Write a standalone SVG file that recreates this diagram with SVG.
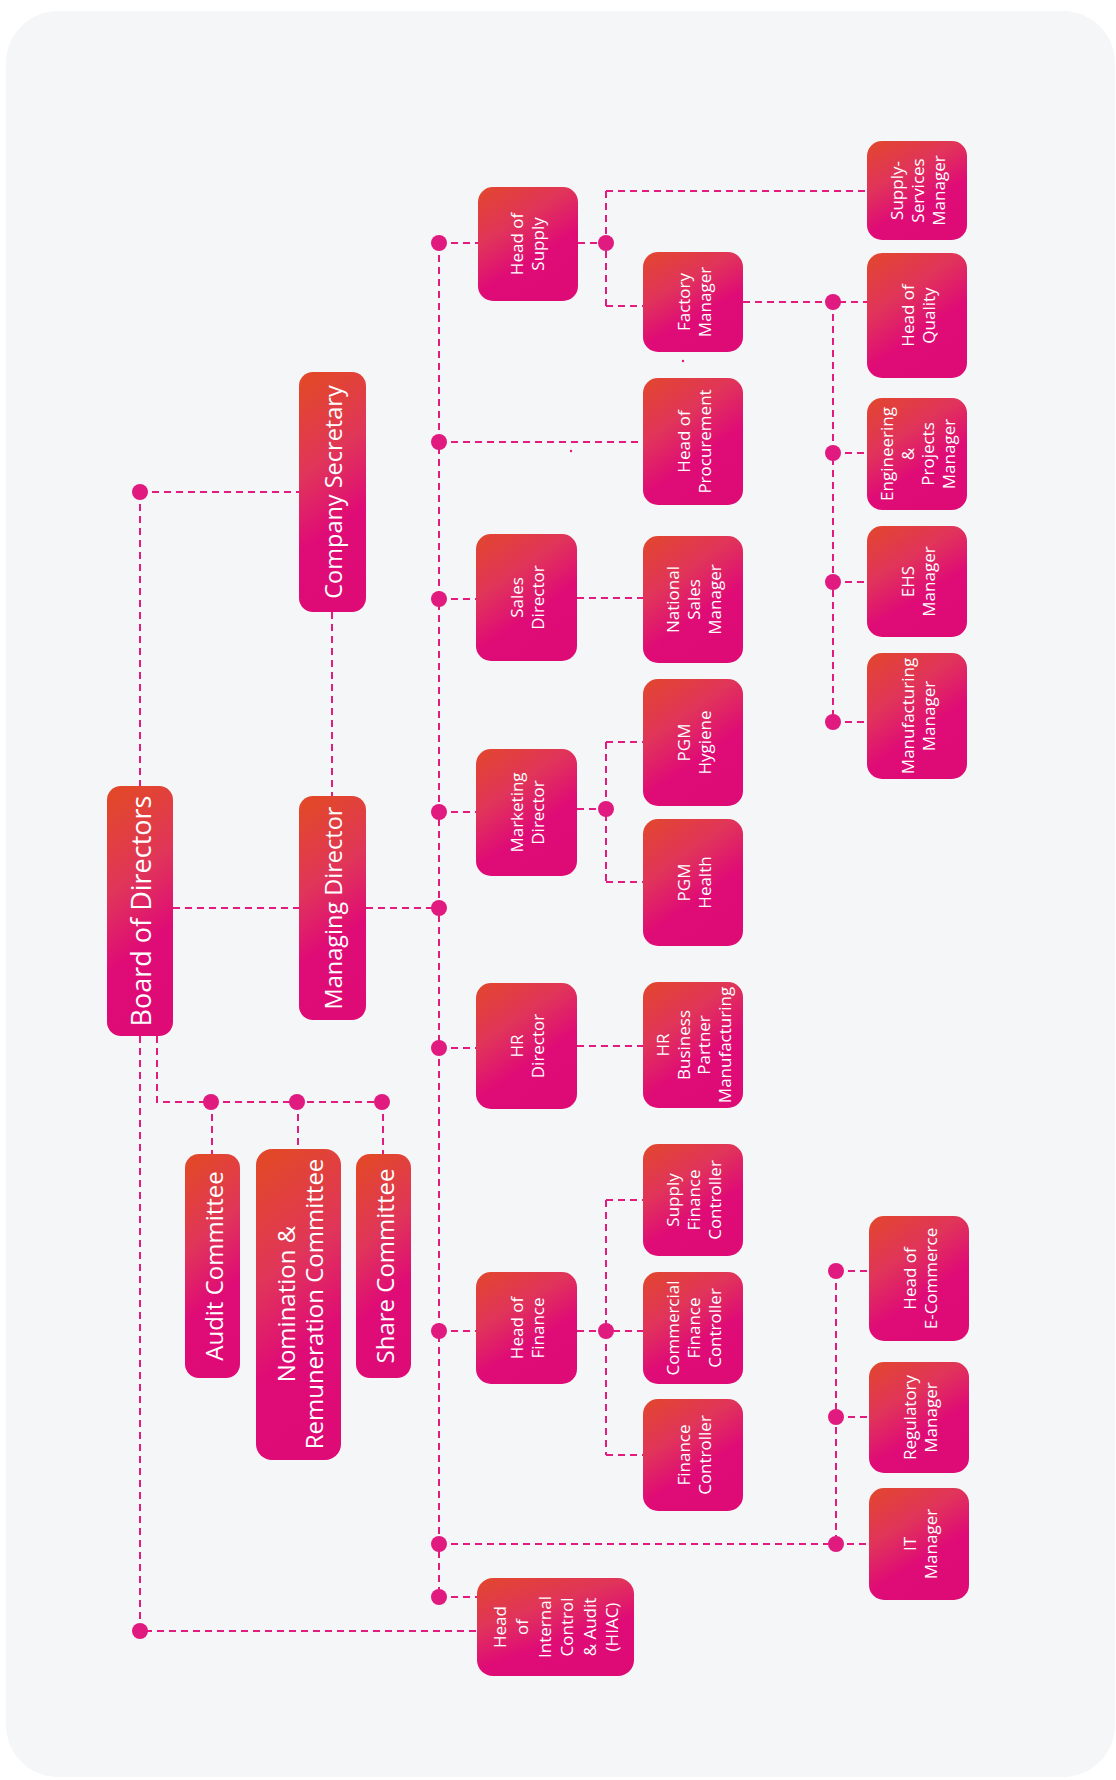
<svg xmlns="http://www.w3.org/2000/svg" width="1116" height="1780" viewBox="0 0 1116 1780">
<defs>
<linearGradient id="gT" x1="0.4" y1="0" x2="0.6" y2="1">
<stop offset="0" stop-color="#e2472c"/><stop offset="0.35" stop-color="#e0355a"/><stop offset="0.65" stop-color="#df0b76"/><stop offset="1" stop-color="#de0a76"/>
</linearGradient>
<linearGradient id="gS" x1="0" y1="0" x2="0.55" y2="1">
<stop offset="0" stop-color="#e2472c"/><stop offset="0.4" stop-color="#e0345a"/><stop offset="0.72" stop-color="#df0b76"/><stop offset="1" stop-color="#de0a76"/>
</linearGradient>
<style>
.bt{fill:url(#gT)}
.bs{fill:url(#gS)}
.t{fill:#fff;font-family:"Open Sans","Noto Sans",sans-serif;text-anchor:middle;dominant-baseline:central}
.tl{font-size:23.5px}
.tc{font-size:24px}
.ts{font-size:17px}
.c{fill:none;stroke:#e31b7f;stroke-width:2;stroke-dasharray:7 5}
.d{fill:#e01a7f}
</style>
</defs>
<rect x="0" y="0" width="1116" height="1780" fill="#ffffff"/>
<rect x="6" y="11" width="1109" height="1766" rx="52" fill="#f5f6f8"/>

<g id="connectors">
<path class="c" d="M439 243V1597"/>
<path class="c" d="M173 908H299M366 908H439"/>
<path class="c" d="M140 492V786M140 492H299M332 612V796"/>
<path class="c" d="M140 1036V1631H477"/>
<path class="c" d="M157 1036V1102H383M212 1102V1154M298 1102V1149M383 1102V1154"/>
<path class="c" d="M439 243H478M578 243H606M606 191V306M606 191H867M606 306H643"/>
<path class="c" d="M743 302H867M833 302V722M833 453H867M833 582H867M833 722H867"/>
<path class="c" d="M439 442H643"/>
<path class="c" d="M439 599H476M577 598H643"/>
<path class="c" d="M439 812H476M577 809H606M606 742V882M606 742H643M606 882H643"/>
<path class="c" d="M439 1048H476M577 1046H643"/>
<path class="c" d="M439 1331H476M577 1331H643M606 1200V1455M606 1200H643M606 1455H643"/>
<path class="c" d="M439 1544H869M836 1271V1544M836 1271H869M836 1417H869"/>
<path class="c" d="M439 1597H477"/>
<circle class="d" cx="140" cy="492" r="8"/>
<circle class="d" cx="140" cy="1631" r="8"/>
<circle class="d" cx="211" cy="1102" r="8"/>
<circle class="d" cx="297" cy="1102" r="8"/>
<circle class="d" cx="382" cy="1102" r="8"/>
<circle class="d" cx="439" cy="243" r="8"/>
<circle class="d" cx="439" cy="442" r="8"/>
<circle class="d" cx="439" cy="599" r="8"/>
<circle class="d" cx="439" cy="812" r="8"/>
<circle class="d" cx="439" cy="908" r="8"/>
<circle class="d" cx="439" cy="1048" r="8"/>
<circle class="d" cx="439" cy="1331" r="8"/>
<circle class="d" cx="439" cy="1544" r="8"/>
<circle class="d" cx="439" cy="1597" r="8"/>
<circle class="d" cx="606" cy="243" r="8"/>
<circle class="d" cx="606" cy="809" r="8"/>
<circle class="d" cx="606" cy="1331" r="8"/>
<circle class="d" cx="833" cy="302" r="8"/>
<circle class="d" cx="833" cy="453" r="8"/>
<circle class="d" cx="833" cy="582" r="8"/>
<circle class="d" cx="833" cy="722" r="8"/>
<circle class="d" cx="836" cy="1271" r="8"/>
<circle class="d" cx="836" cy="1417" r="8"/>
<circle class="d" cx="836" cy="1544" r="8"/>
<circle class="d" cx="571" cy="451" r="1.2"/>
<circle class="d" cx="683" cy="361" r="1.2"/>
</g>

<g id="board">
<rect class="bt" x="107" y="786" width="66" height="250" rx="14"/>
<text class="t" style="font-size:27px" transform="translate(140 911) rotate(-90)"><tspan x="0" y="0">Board of Directors</tspan></text>
</g>
<g id="md">
<rect class="bt" x="299" y="796" width="67" height="224" rx="14"/>
<text class="t tl" transform="translate(332.5 908) rotate(-90)"><tspan x="0" y="0">Managing Director</tspan></text>
</g>
<g id="cs">
<rect class="bt" x="299" y="372" width="67" height="240" rx="14"/>
<text class="t tl" transform="translate(332.5 492) rotate(-90)"><tspan x="0" y="0">Company Secretary</tspan></text>
</g>
<g id="audit">
<rect class="bt" x="185" y="1154" width="55" height="224" rx="14"/>
<text class="t tc" transform="translate(212.5 1266) rotate(-90)"><tspan x="0" y="0">Audit Committee</tspan></text>
</g>
<g id="nomination">
<rect class="bt" x="256" y="1149" width="85" height="311" rx="16"/>
<text class="t tc" transform="translate(298.5 1304) rotate(-90)"><tspan x="0" y="-14">Nomination &amp;</tspan><tspan x="0" y="14">Remuneration Committee</tspan></text>
</g>
<g id="share">
<rect class="bt" x="356" y="1154" width="55" height="224" rx="14"/>
<text class="t tc" transform="translate(383.5 1266) rotate(-90)"><tspan x="0" y="0">Share Committee</tspan></text>
</g>

<g id="head-supply">
<rect class="bs" x="478" y="187" width="100" height="114" rx="15"/>
<text class="t ts" transform="translate(526 244) rotate(-90)"><tspan x="0" y="-10.5">Head of</tspan><tspan x="0" y="10.5">Supply</tspan></text>
</g>
<g id="supply-services">
<rect class="bs" x="867" y="141" width="100" height="99" rx="15"/>
<text class="t ts" transform="translate(917 190.5) rotate(-90)"><tspan x="0" y="-21">Supply-</tspan><tspan x="0" y="0">Services</tspan><tspan x="0" y="21">Manager</tspan></text>
</g>
<g id="factory">
<rect class="bs" x="643" y="252" width="100" height="100" rx="15"/>
<text class="t ts" transform="translate(693 302) rotate(-90)"><tspan x="0" y="-10.5">Factory</tspan><tspan x="0" y="10.5">Manager</tspan></text>
</g>
<g id="quality">
<rect class="bs" x="867" y="253" width="100" height="125" rx="15"/>
<text class="t ts" transform="translate(917 315.5) rotate(-90)"><tspan x="0" y="-10.5">Head of</tspan><tspan x="0" y="10.5">Quality</tspan></text>
</g>
<g id="procurement">
<rect class="bs" x="643" y="378" width="100" height="127" rx="15"/>
<text class="t ts" transform="translate(693 441.5) rotate(-90)"><tspan x="0" y="-10.5">Head of</tspan><tspan x="0" y="10.5">Procurement</tspan></text>
</g>
<g id="engineering">
<rect class="bs" x="867" y="398" width="100" height="112" rx="15"/>
<text class="t ts" transform="translate(917 454) rotate(-90)"><tspan x="0" y="-31">Engineering</tspan><tspan x="0" y="-10.3">&amp;</tspan><tspan x="0" y="10.3">Projects</tspan><tspan x="0" y="31">Manager</tspan></text>
</g>
<g id="sales">
<rect class="bs" x="476" y="534" width="101" height="127" rx="15"/>
<text class="t ts" transform="translate(526.5 597.5) rotate(-90)"><tspan x="0" y="-10.5">Sales</tspan><tspan x="0" y="10.5">Director</tspan></text>
</g>
<g id="national-sales">
<rect class="bs" x="643" y="536" width="100" height="127" rx="15"/>
<text class="t ts" transform="translate(693 599.5) rotate(-90)"><tspan x="0" y="-21">National</tspan><tspan x="0" y="0">Sales</tspan><tspan x="0" y="21">Manager</tspan></text>
</g>
<g id="ehs">
<rect class="bs" x="867" y="526" width="100" height="111" rx="15"/>
<text class="t ts" transform="translate(917 581.5) rotate(-90)"><tspan x="0" y="-10.5">EHS</tspan><tspan x="0" y="10.5">Manager</tspan></text>
</g>
<g id="manufacturing">
<rect class="bs" x="867" y="653" width="100" height="126" rx="15"/>
<text class="t ts" transform="translate(917 716) rotate(-90)"><tspan x="0" y="-10.5">Manufacturing</tspan><tspan x="0" y="10.5">Manager</tspan></text>
</g>
<g id="pgm-hygiene">
<rect class="bs" x="643" y="679" width="100" height="127" rx="15"/>
<text class="t ts" transform="translate(693 742.5) rotate(-90)"><tspan x="0" y="-10.5">PGM</tspan><tspan x="0" y="10.5">Hygiene</tspan></text>
</g>
<g id="marketing">
<rect class="bs" x="476" y="749" width="101" height="127" rx="15"/>
<text class="t ts" transform="translate(526.5 812.5) rotate(-90)"><tspan x="0" y="-10.5">Marketing</tspan><tspan x="0" y="10.5">Director</tspan></text>
</g>
<g id="pgm-health">
<rect class="bs" x="643" y="819" width="100" height="127" rx="15"/>
<text class="t ts" transform="translate(693 882.5) rotate(-90)"><tspan x="0" y="-10.5">PGM</tspan><tspan x="0" y="10.5">Health</tspan></text>
</g>
<g id="hr">
<rect class="bs" x="476" y="983" width="101" height="126" rx="15"/>
<text class="t ts" transform="translate(526.5 1046) rotate(-90)"><tspan x="0" y="-10.5">HR</tspan><tspan x="0" y="10.5">Director</tspan></text>
</g>
<g id="hr-bp">
<rect class="bs" x="643" y="982" width="100" height="126" rx="15"/>
<text class="t ts" transform="translate(693 1045) rotate(-90)"><tspan x="0" y="-31">HR</tspan><tspan x="0" y="-10.3">Business</tspan><tspan x="0" y="10.3">Partner</tspan><tspan x="0" y="31">Manufacturing</tspan></text>
</g>
<g id="supply-fc">
<rect class="bs" x="643" y="1144" width="100" height="112" rx="15"/>
<text class="t ts" transform="translate(693 1200) rotate(-90)"><tspan x="0" y="-21">Supply</tspan><tspan x="0" y="0">Finance</tspan><tspan x="0" y="21">Controller</tspan></text>
</g>
<g id="finance">
<rect class="bs" x="476" y="1272" width="101" height="112" rx="15"/>
<text class="t ts" transform="translate(526.5 1328) rotate(-90)"><tspan x="0" y="-10.5">Head of</tspan><tspan x="0" y="10.5">Finance</tspan></text>
</g>
<g id="commercial-fc">
<rect class="bs" x="643" y="1272" width="100" height="112" rx="15"/>
<text class="t ts" transform="translate(693 1328) rotate(-90)"><tspan x="0" y="-21">Commercial</tspan><tspan x="0" y="0">Finance</tspan><tspan x="0" y="21">Controller</tspan></text>
</g>
<g id="fc">
<rect class="bs" x="643" y="1399" width="100" height="112" rx="15"/>
<text class="t ts" transform="translate(693 1455) rotate(-90)"><tspan x="0" y="-10.5">Finance</tspan><tspan x="0" y="10.5">Controller</tspan></text>
</g>
<g id="ecommerce">
<rect class="bs" x="869" y="1216" width="100" height="125" rx="15"/>
<text class="t ts" transform="translate(919 1278.5) rotate(-90)"><tspan x="0" y="-10.5">Head of</tspan><tspan x="0" y="10.5">E-Commerce</tspan></text>
</g>
<g id="regulatory">
<rect class="bs" x="869" y="1362" width="100" height="111" rx="15"/>
<text class="t ts" transform="translate(919 1417.5) rotate(-90)"><tspan x="0" y="-10.5">Regulatory</tspan><tspan x="0" y="10.5">Manager</tspan></text>
</g>
<g id="it">
<rect class="bs" x="869" y="1488" width="100" height="112" rx="15"/>
<text class="t ts" transform="translate(919 1544) rotate(-90)"><tspan x="0" y="-10.5">IT</tspan><tspan x="0" y="10.5">Manager</tspan></text>
</g>
<g id="hiac">
<rect class="bs" x="477" y="1578" width="157" height="98" rx="16"/>
<text class="t ts" transform="translate(555 1627) rotate(-90)"><tspan x="0" y="-56">Head</tspan><tspan x="0" y="-33.6">of</tspan><tspan x="0" y="-11.2">Internal</tspan><tspan x="0" y="11.2">Control</tspan><tspan x="0" y="33.6">&amp; Audit</tspan><tspan x="0" y="56">(HIAC)</tspan></text>
</g>
</svg>
